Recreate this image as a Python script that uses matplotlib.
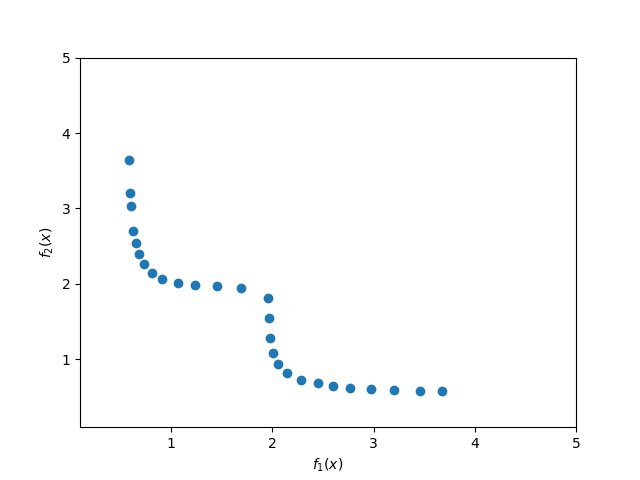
import matplotlib
matplotlib.use('Agg')
from matplotlib import pyplot as plt

# Pareto front points
f1 = [0.587, 0.597, 0.607, 0.627, 0.656, 0.686, 0.732, 0.814, 0.913, 1.071,
      1.239, 1.453, 1.686, 1.960, 1.970, 1.980, 2.010, 2.059, 2.142, 2.283,
      2.454, 2.602, 2.770, 2.978, 3.202, 3.462, 3.676]
f2 = [3.638, 3.201, 3.029, 2.701, 2.542, 2.392, 2.260, 2.140, 2.065, 2.008,
      1.985, 1.972, 1.943, 1.809, 1.544, 1.279, 1.084, 0.934, 0.815, 0.726,
      0.682, 0.642, 0.620, 0.607, 0.594, 0.576, 0.576]

fig = plt.figure(figsize=(6.4, 4.8), dpi=100)
plt.scatter(f1, f2)
plt.xlim([0.1, 5])
plt.ylim([0.1, 5])
plt.xticks([1, 2, 3, 4, 5])
plt.yticks([1, 2, 3, 4, 5])
plt.xlabel('$f_1(x)$')
plt.ylabel('$f_2(x)$')

plt.savefig('out.png')
